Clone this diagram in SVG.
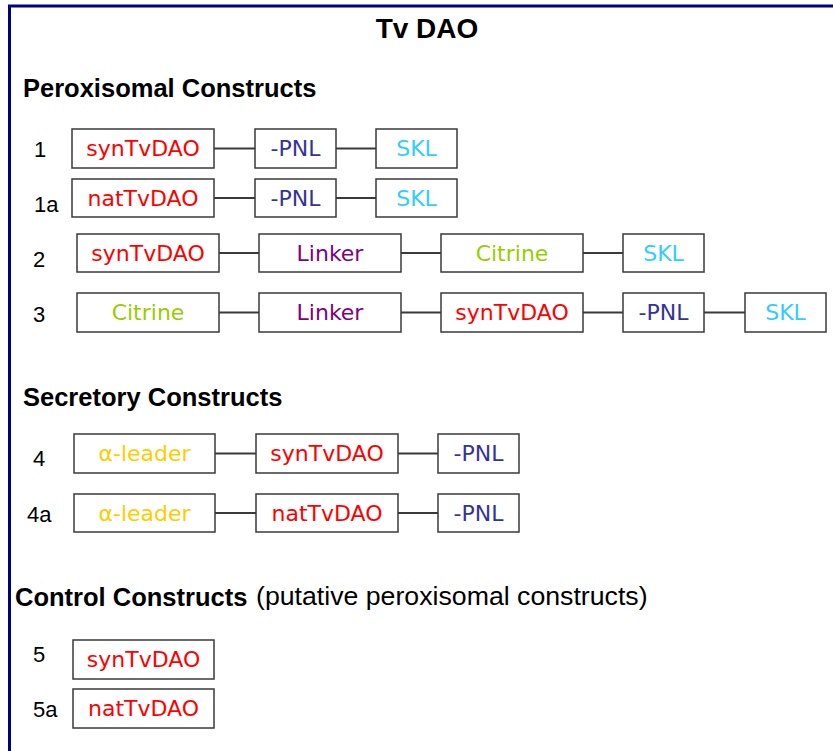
<svg xmlns="http://www.w3.org/2000/svg" width="833" height="751" viewBox="0 0 833 751">
<style>
.bg{fill:#ffffff}
.frame{stroke:#000080;stroke-width:3;fill:none}
.box{fill:#ffffff;stroke:#3a3a3a;stroke-width:1.5}
.lnk{stroke:#3a3a3a;stroke-width:2;fill:none}
.t{font-family:"DejaVu Sans",sans-serif;font-size:22px;text-anchor:middle}
.h{font-family:"Liberation Sans",Arial,sans-serif;font-size:25.5px;font-weight:bold;fill:#000}
.n{font-family:"Liberation Sans",Arial,sans-serif;font-size:22px;fill:#000}
.red{fill:#ff0000}.pnl{fill:#333399}.skl{fill:#33ccff}.lin{fill:#800080}.cit{fill:#99cc00}.ald{fill:#ffcc00}
</style>
<rect class="bg" x="0" y="0" width="833" height="751"/>
<path class="frame" d="M9.5 751 V6 H833"/>
<text x="427" y="38" class="h" text-anchor="middle" style="font-size:28px">Tv DAO</text>
<text x="23" y="97" class="h">Peroxisomal Constructs</text>
<text x="23" y="406" class="h">Secretory Constructs</text>
<text x="15" y="606" class="h">Control Constructs</text>
<text x="256" y="605" class="n" style="font-size:26.7px">(putative peroxisomal constructs)</text>
<g id="labels">
<text x="34" y="157" class="n">1</text>
<text x="34" y="212" class="n">1a</text>
<text x="33" y="267" class="n">2</text>
<text x="33" y="322" class="n">3</text>
<text x="33" y="466" class="n">4</text>
<text x="27" y="522" class="n">4a</text>
<text x="33" y="662" class="n">5</text>
<text x="33" y="717" class="n">5a</text>
</g>
<g id="connectors">
<line class="lnk" x1="214" y1="148.5" x2="255" y2="148.5"/>
<line class="lnk" x1="336" y1="148.5" x2="376" y2="148.5"/>
<line class="lnk" x1="214" y1="198" x2="255" y2="198"/>
<line class="lnk" x1="336" y1="198" x2="376" y2="198"/>
<line class="lnk" x1="219" y1="253" x2="259" y2="253"/>
<line class="lnk" x1="401" y1="253" x2="441" y2="253"/>
<line class="lnk" x1="583" y1="253" x2="623" y2="253"/>
<line class="lnk" x1="219" y1="312.5" x2="259" y2="312.5"/>
<line class="lnk" x1="401" y1="312.5" x2="441" y2="312.5"/>
<line class="lnk" x1="583" y1="312.5" x2="623" y2="312.5"/>
<line class="lnk" x1="704" y1="312.5" x2="745" y2="312.5"/>
<line class="lnk" x1="215" y1="453.5" x2="256" y2="453.5"/>
<line class="lnk" x1="398" y1="453.5" x2="438" y2="453.5"/>
<line class="lnk" x1="215" y1="513" x2="256" y2="513"/>
<line class="lnk" x1="398" y1="513" x2="438" y2="513"/>
</g>
<g id="r1a"><rect class="box" x="72" y="129" width="142" height="39"/><text class="t red" x="143" y="156">synTvDAO</text></g>
<g id="r1b"><rect class="box" x="255" y="129" width="81" height="39"/><text class="t pnl" x="295.5" y="156">-PNL</text></g>
<g id="r1c"><rect class="box" x="376" y="129" width="81" height="39"/><text class="t skl" x="416.5" y="156">SKL</text></g>
<g id="r1aa"><rect class="box" x="72" y="179" width="142" height="38"/><text class="t red" x="143" y="206">natTvDAO</text></g>
<g id="r1ab"><rect class="box" x="255" y="179" width="81" height="38"/><text class="t pnl" x="295.5" y="206">-PNL</text></g>
<g id="r1ac"><rect class="box" x="376" y="179" width="81" height="38"/><text class="t skl" x="416.5" y="206">SKL</text></g>
<g id="r2a"><rect class="box" x="77" y="234" width="142" height="38"/><text class="t red" x="148" y="261">synTvDAO</text></g>
<g id="r2b"><rect class="box" x="259" y="234" width="142" height="38"/><text class="t lin" x="330" y="261">Linker</text></g>
<g id="r2c"><rect class="box" x="441" y="234" width="142" height="38"/><text class="t cit" x="512" y="261">Citrine</text></g>
<g id="r2d"><rect class="box" x="623" y="234" width="81" height="38"/><text class="t skl" x="663.5" y="261">SKL</text></g>
<g id="r3a"><rect class="box" x="77" y="293" width="142" height="39"/><text class="t cit" x="148" y="320">Citrine</text></g>
<g id="r3b"><rect class="box" x="259" y="293" width="142" height="39"/><text class="t lin" x="330" y="320">Linker</text></g>
<g id="r3c"><rect class="box" x="441" y="293" width="142" height="39"/><text class="t red" x="512" y="320">synTvDAO</text></g>
<g id="r3d"><rect class="box" x="623" y="293" width="81" height="39"/><text class="t pnl" x="663.5" y="320">-PNL</text></g>
<g id="r3e"><rect class="box" x="745" y="293" width="81" height="39"/><text class="t skl" x="785.5" y="320">SKL</text></g>
<g id="r4a"><rect class="box" x="74" y="434" width="141" height="39"/><text class="t ald" x="144.5" y="461">α-leader</text></g>
<g id="r4b"><rect class="box" x="256" y="434" width="142" height="39"/><text class="t red" x="327" y="461">synTvDAO</text></g>
<g id="r4c"><rect class="box" x="438" y="434" width="81" height="39"/><text class="t pnl" x="478.5" y="461">-PNL</text></g>
<g id="r4aa"><rect class="box" x="74" y="494" width="141" height="38"/><text class="t ald" x="144.5" y="521">α-leader</text></g>
<g id="r4ab"><rect class="box" x="256" y="494" width="142" height="38"/><text class="t red" x="327" y="521">natTvDAO</text></g>
<g id="r4ac"><rect class="box" x="438" y="494" width="81" height="38"/><text class="t pnl" x="478.5" y="521">-PNL</text></g>
<g id="r5"><rect class="box" x="73" y="640" width="141" height="39"/><text class="t red" x="143.5" y="667">synTvDAO</text></g>
<g id="r5a"><rect class="box" x="73" y="689" width="141" height="39"/><text class="t red" x="143.5" y="716">natTvDAO</text></g>
</svg>
